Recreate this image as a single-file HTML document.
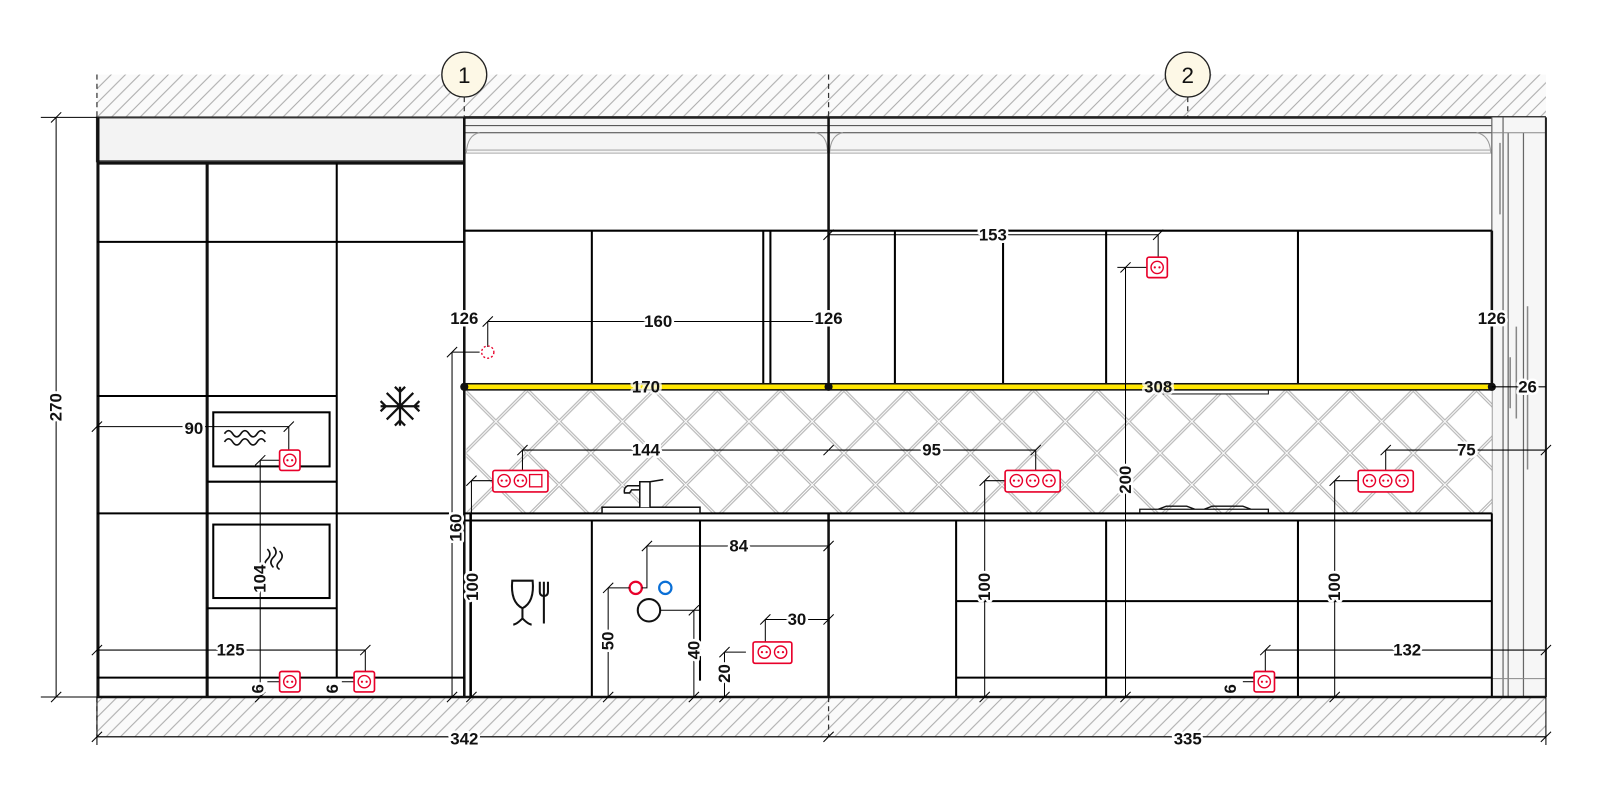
<!DOCTYPE html>
<html><head><meta charset="utf-8"><style>
html,body{margin:0;padding:0;background:#fff;}
svg{display:block;}
text{font-family:"Liberation Sans",sans-serif;font-weight:bold;font-size:16.5px;fill:#111;text-anchor:middle;dominant-baseline:central;paint-order:stroke;stroke:#fff;stroke-width:5px;stroke-linejoin:round;}
.t{stroke:#000;stroke-width:1;fill:none}
.m{stroke:#000;stroke-width:2;fill:none}
.g{stroke:#999;stroke-width:1;fill:none}
.s rect{fill:#fff;stroke:#e8002a;stroke-width:1.6}
</style></head><body>
<svg width="1600" height="793" viewBox="0 0 1568 777" xmlns="http://www.w3.org/2000/svg">
<defs>
<pattern id="h" patternUnits="userSpaceOnUse" width="14" height="14">
<rect width="14" height="14" fill="#fafafa"/>
<path d="M-2,16 L16,-2 M-2,2 L2,-2 M12,16 L16,12" stroke="#aaa" stroke-width="1"/>
</pattern>
<pattern id="tile" patternUnits="userSpaceOnUse" x="455" y="382" width="62" height="62">
<rect width="62" height="62" fill="#fff"/>
<path d="M0,0 L62,62 M62,0 L0,62" stroke="#b5b5b5" stroke-width="3.2"/>
<path d="M0,0 L62,62 M62,0 L0,62" stroke="#fff" stroke-width="1"/>
</pattern>
<g id="tk"><path d="M-5,5 L5,-5" stroke="#000" stroke-width="1"/></g>
<g id="o"><circle r="6" fill="none" stroke="#e8002a" stroke-width="1.4"/><circle cx="-2.3" cy="0" r="1.1" fill="#e8002a"/><circle cx="2.3" cy="0" r="1.1" fill="#e8002a"/></g>
</defs>

<rect x="95" y="73" width="1420" height="42" fill="url(#h)"/>
<rect x="95" y="683" width="1420" height="39" fill="url(#h)"/>
<line x1="95" y1="722" x2="1515" y2="722" class="g"/>

<path d="M95,73 V115 M455,95 V115 M812,73 V115 M1164,95 V115" stroke="#333" stroke-width="1.2" stroke-dasharray="5,4"/>
<path d="M95,683 V722 M812,683 V722" stroke="#333" stroke-width="1.2" stroke-dasharray="5,4"/>

<circle cx="455" cy="73" r="22" fill="#fdf8e6" stroke="#222" stroke-width="1.3"/>
<text x="455" y="74" style="font-weight:normal;font-size:22px;stroke:none">1</text>
<circle cx="1164" cy="73" r="22" fill="#fdf8e6" stroke="#222" stroke-width="1.3"/>
<text x="1164" y="74" style="font-weight:normal;font-size:22px;stroke:none">2</text>

<rect x="455" y="115" width="1060" height="35" fill="#f5f5f5"/>
<path d="M455,115 H1515" stroke="#222" stroke-width="2.5"/>
<path d="M455,123 H1462 M455,130 H1462" stroke="#444" stroke-width="1"/>
<path d="M470,130 Q458,132 457,150 M826,130 Q814,132 813,150 M799,130 Q811,132 811,150 M1447,130 Q1460,132 1461,150" class="g"/>
<path d="M455,147 H1462 M455,150 H1462" stroke="#aaa" stroke-width="1"/>

<rect x="1462" y="115" width="53" height="568" fill="#f6f6f6"/>
<path d="M1462,115 V683 M1473,115 V683 M1478,130 V683 M1493,130 V683 M1515,115 V683" stroke="#666" stroke-width="1.2"/>
<path d="M1470,140 V210 M1486,320 V410 M1480,350 V400 M1497,300 V460" stroke="#888" stroke-width="1.5"/>
<path d="M1462,130 H1515 M1462,665 H1515" stroke="#888" stroke-width="1"/>
<path d="M1515,115 V683" stroke="#222" stroke-width="2"/>

<rect x="95" y="115" width="360" height="43" fill="#f3f3f3" stroke="#333" stroke-width="2"/>
<path d="M95,160 H455" stroke="#111" stroke-width="2.5"/>
<path d="M96,115 V683" stroke="#111" stroke-width="3"/>
<path d="M203,160 V683" stroke="#111" stroke-width="3"/>
<path d="M330,160 V664" class="m"/>
<path d="M455,115 V683" stroke="#111" stroke-width="2.5"/>
<path d="M95,237 H455 M95,388 H330 M95,503 H440 M203,472 H330 M203,596 H330 M95,664 H455" class="m"/>
<rect x="209" y="404" width="114" height="53" class="m"/>
<rect x="209" y="514" width="114" height="72" class="m"/>
<path d="M220,425 q4,-6 8,0 t8,0 t8,0 t8,0 t8,0 M220,433 q4,-6 8,0 t8,0 t8,0 t8,0 t8,0" stroke="#111" stroke-width="1.6" fill="none"/>
<path d="M262,538 q5,5 0,10 t0,10 M268,536 q5,5 0,10 t0,10 M274,540 q5,5 0,10 t0,8" stroke="#111" stroke-width="1.6" fill="none"/>
<g stroke="#111" stroke-width="2.2" fill="none" transform="translate(392,398)">
<path d="M0,-19 V19 M-19,0 H19 M-13,-13 L13,13 M13,-13 L-13,13"/>
<path d="M-5,-19 L0,-14 L5,-19 M-5,19 L0,14 L5,19 M-19,-5 L-14,0 L-19,5 M19,-5 L14,0 L19,5"/>
</g>

<path d="M455,226 H1462" class="m"/>
<path d="M580,226 V379 M748,226 V379 M755,226 V379 M877,226 V379 M983,226 V379 M1084,226 V379 M1272,226 V379" class="m"/>
<path d="M1462,226 V379" stroke="#111" stroke-width="2.5"/>
<path d="M812,115 V683" stroke="#111" stroke-width="2.5"/>

<rect x="457" y="382" width="1005" height="121" fill="url(#tile)"/>
<rect x="1140" y="382" width="103" height="4" fill="#fff" stroke="#111" stroke-width="1"/>

<rect x="455" y="376" width="1007" height="6" fill="#ffe600" stroke="#111" stroke-width="1.5"/>
<circle cx="455" cy="379" r="4" fill="#111"/>
<circle cx="812" cy="379" r="4" fill="#111"/>
<circle cx="1462" cy="379" r="4" fill="#111"/>

<path d="M455,503 H1462 M455,510 H1462" class="m"/>
<path d="M461,503 V683 M580,510 V683 M686,510 V667 M937,510 V683 M1084,510 V683 M1272,510 V683 M1462,503 V683" class="m"/>
<path d="M937,589 H1462 M937,664 H1462" class="m"/>
<path d="M95,683 H1515" stroke="#111" stroke-width="2.5"/>
<rect x="590" y="497" width="96" height="6" fill="#fff" stroke="#111" stroke-width="1.5"/>
<path d="M627,497 V472 H637 V497 M637,472 L650,470 M627,476 H615 q-4,2 -3,7 h5 l2,-3 h8" stroke="#111" stroke-width="1.5" fill="#fff"/>
<path d="M1117,503 V499 H1243 V503 M1135,499 l8,-3 h20 l8,3 M1180,499 l8,-3 h30 l8,3" stroke="#111" stroke-width="1.3" fill="none"/>
<g stroke="#111" stroke-width="2" fill="none">
<path d="M502,569 H522 Q524,590 512,596 Q500,590 502,569 Z M512,596 V606 Q506,612 503,612 M512,606 Q518,612 521,612"/>
<path d="M529,570 V580 Q529,584 533,584 Q537,584 537,580 V570 M533,570 V611"/>
</g>
<circle cx="623" cy="576" r="6" fill="none" stroke="#e8002a" stroke-width="2.2"/>
<circle cx="652" cy="576" r="6" fill="none" stroke="#0a6fd6" stroke-width="2.2"/>
<circle cx="636" cy="598" r="11" fill="none" stroke="#111" stroke-width="2"/>

<g class="t">
<path d="M40,115 H95 M40,683 H95 M55,115 V683"/>
<path d="M95,683 V730 M1515,683 V730 M95,722 H1515"/>
<path d="M478,315 H812 M478,315 V340"/>
<path d="M812,230 H1135 M1135,230 V255"/>
<path d="M1095,262 H1125 M1103,262 V683"/>
<path d="M443,345 H470 M443,345 V683"/>
<path d="M1462,379 H1515"/>
<path d="M95,418 H283 M283,418 V443"/>
<path d="M255,451 H276 M255,451 V683"/>
<path d="M95,637 H358 M358,637 V660"/>
<path d="M262,668 H276 M335,668 H349"/>
<path d="M512,441 H812 M512,441 V461"/>
<path d="M462,471 H483 M462,471 V683"/>
<path d="M812,441 H1015 M1015,441 V461"/>
<path d="M965,471 H985 M965,471 V683"/>
<path d="M1358,441 H1515 M1358,441 V461"/>
<path d="M1308,471 H1331 M1308,471 V683"/>
<path d="M1240,637 H1515 M1240,637 V658"/>
<path d="M1218,668 H1229"/>
<path d="M634,535 H812 M634,535 V576 H629"/>
<path d="M596,576 H617 M596,576 V683"/>
<path d="M647,598 H686 M680,598 V683"/>
<path d="M750,607 H812 M750,607 V629"/>
<path d="M710,639 H731 M710,639 V683"/>
</g>
<g>
<use href="#tk" x="55" y="115"/><use href="#tk" x="55" y="683"/>
<use href="#tk" x="95" y="722"/><use href="#tk" x="812" y="722"/><use href="#tk" x="1515" y="722"/>
<use href="#tk" x="478" y="315"/><use href="#tk" x="812" y="230"/><use href="#tk" x="1135" y="230"/>
<use href="#tk" x="1103" y="262"/><use href="#tk" x="1103" y="683"/>
<use href="#tk" x="443" y="345"/><use href="#tk" x="443" y="683"/><use href="#tk" x="462" y="683"/>
<use href="#tk" x="95" y="418"/><use href="#tk" x="283" y="418"/><use href="#tk" x="255" y="451"/><use href="#tk" x="255" y="683"/>
<use href="#tk" x="95" y="637"/><use href="#tk" x="358" y="637"/>
<use href="#tk" x="512" y="441"/><use href="#tk" x="812" y="441"/><use href="#tk" x="462" y="471"/>
<use href="#tk" x="1015" y="441"/><use href="#tk" x="965" y="471"/><use href="#tk" x="965" y="683"/>
<use href="#tk" x="1358" y="441"/><use href="#tk" x="1515" y="441"/><use href="#tk" x="1308" y="471"/><use href="#tk" x="1308" y="683"/>
<use href="#tk" x="1240" y="637"/><use href="#tk" x="1515" y="637"/>
<use href="#tk" x="634" y="535"/><use href="#tk" x="812" y="535"/><use href="#tk" x="596" y="576"/><use href="#tk" x="596" y="683"/>
<use href="#tk" x="680" y="598"/><use href="#tk" x="680" y="683"/>
<use href="#tk" x="750" y="607"/><use href="#tk" x="812" y="607"/><use href="#tk" x="710" y="639"/><use href="#tk" x="710" y="683"/>
</g>

<circle cx="478" cy="345" r="6" fill="none" stroke="#e8002a" stroke-width="1.3" stroke-dasharray="2,2"/>

<g class="s">
<g transform="translate(1134,262)"><rect x="-10" y="-10" width="20" height="20" rx="2"/><use href="#o"/></g>
<g transform="translate(284,451)"><rect x="-10" y="-10" width="20" height="20" rx="2"/><use href="#o"/></g>
<g transform="translate(284,668)"><rect x="-10" y="-10" width="20" height="20" rx="2"/><use href="#o"/></g>
<g transform="translate(357,668)"><rect x="-10" y="-10" width="20" height="20" rx="2"/><use href="#o"/></g>
<g transform="translate(1239,668)"><rect x="-10" y="-10" width="20" height="20" rx="2"/><use href="#o"/></g>
<g transform="translate(510,471)"><rect x="-27" y="-10" width="54" height="21" rx="2"/><use href="#o" x="-16"/><use href="#o" x="0"/><rect x="9" y="-6" width="12" height="12" rx="0" style="stroke-width:1.3"/></g>
<g transform="translate(1012,471)"><rect x="-27" y="-10" width="54" height="21" rx="2"/><use href="#o" x="-16"/><use href="#o" x="0"/><use href="#o" x="16"/></g>
<g transform="translate(1358,471)"><rect x="-27" y="-10" width="54" height="21" rx="2"/><use href="#o" x="-16"/><use href="#o" x="0"/><use href="#o" x="16"/></g>
<g transform="translate(757,639)"><rect x="-19" y="-10" width="38" height="21" rx="2"/><use href="#o" x="-8"/><use href="#o" x="8"/></g>
</g>

<text x="55" y="399" transform="rotate(-90 55 399)">270</text>
<text x="455" y="724">342</text>
<text x="1164" y="724">335</text>
<text x="455" y="312">126</text>
<text x="645" y="315">160</text>
<text x="812" y="312">126</text>
<text x="1462" y="312">126</text>
<text x="973" y="230">153</text>
<text x="1103" y="470" transform="rotate(-90 1103 470)">200</text>
<text x="447" y="517" transform="rotate(-90 447 517)">160</text>
<text x="633" y="379" style="stroke:rgba(255,255,255,0.75)">170</text>
<text x="1135" y="379" style="stroke:rgba(255,255,255,0.75)">308</text>
<text x="1497" y="379">26</text>
<text x="190" y="420">90</text>
<text x="255" y="567" transform="rotate(-90 255 567)">104</text>
<text x="226" y="637">125</text>
<text x="253" y="675" transform="rotate(-90 253 675)">6</text>
<text x="326" y="675" transform="rotate(-90 326 675)">6</text>
<text x="633" y="441">144</text>
<text x="463" y="575" transform="rotate(-90 463 575)">100</text>
<text x="913" y="441">95</text>
<text x="965" y="575" transform="rotate(-90 965 575)">100</text>
<text x="1437" y="441">75</text>
<text x="1308" y="575" transform="rotate(-90 1308 575)">100</text>
<text x="1379" y="637">132</text>
<text x="1206" y="675" transform="rotate(-90 1206 675)">6</text>
<text x="724" y="535">84</text>
<text x="596" y="628" transform="rotate(-90 596 628)">50</text>
<text x="680" y="637" transform="rotate(-90 680 637)">40</text>
<text x="781" y="607">30</text>
<text x="710" y="660" transform="rotate(-90 710 660)">20</text>
</svg>
</body></html>
